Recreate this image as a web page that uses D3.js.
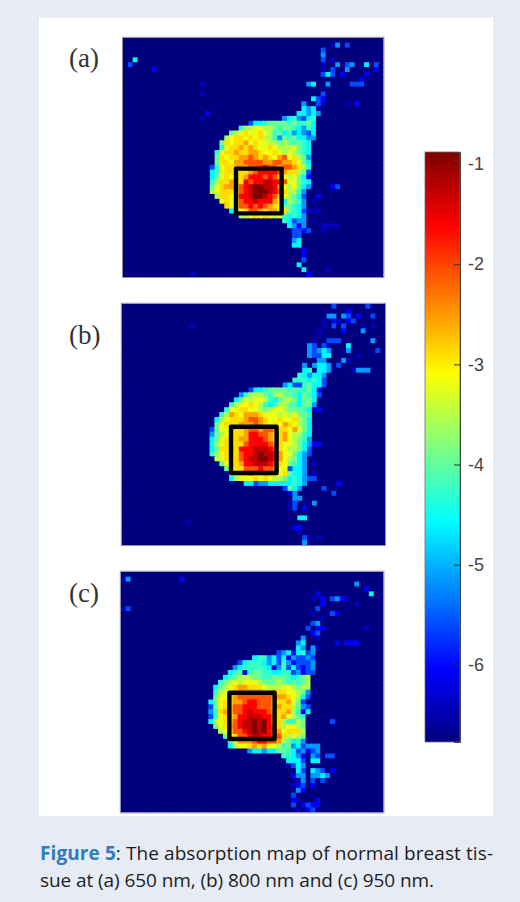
<!DOCTYPE html>
<html>
<head>
<meta charset="utf-8">
<script src="https://cdnjs.cloudflare.com/ajax/libs/d3/7.8.5/d3.min.js"></script>
<style>
  html, body { margin: 0; padding: 0; background: #e7ebf6; }
  svg { display: block; }
</style>
</head>
<body>
<svg id="fig" width="520" height="902"></svg>
<script>
// one char per cell level
const levelKeys = [".", "1", "2", "3", "4", "5", "6", "7", "8", "9", "a", "b", "c", "d", "e", "f"];
const levelValues = [-6.77, -6.45, -6.0, -5.6, -5.15, -4.6, -4.25, -3.95, -3.55, -3.2, -2.9, -2.55, -2.1, -1.65, -1.25, -0.9];
const barTicks = [-1, -2, -3, -4, -5, -6];
const panelNames = ["(a)", "(b)", "(c)"];

// each row: "startColumn:levels ..." anything not listed is background
const rowsA = [
  "", "43:14 46:3", "41:3", "41:4", "2:5 41:3 43:1", "1:3 41:1 44:4 46:34 50:5 52:3",
  "6:2 41:1 43:3 46:4 52:2", "41:3 42:5 43:3 45:2 50:2", "49:2", "16:1 38:45 42:4 47:333", "",
  "16:1 41:3", "39:53 41:2", "37:4 40:31 46:1 48:2", "37:545 40:1", "17:2 36:55454",
  "16:1 33:45643 38:56", "26:35567777676675",
  "24:6889988767765465", "22:789a99a98675645435", "21:89aa9a9a88647675544",
  "20:7a9aab9a99887876765", "20:69aababa99a98889765", "19:69aabaabba99a9898765",
  "19:7a9aabbcbaba9bc9a874", "19:7aa9bbccccbbccbba975", "18:369aabbbcccdccbccba86",
  "18:569aa9aabcddddcbaa873", "18:579a9aabdddcdca989752", "18:68aabaadcddeeddc99765",
  "18:79abbacdeffeedb989754 43:23", "18:89aaaacdefffedca8864", "19:8aa9addeffedca98753 40:2",
  "20:9a9acddedddb958764 39:1", "21:a9accdcdcba977654", "22:589accbabb9a7653 38:111",
  "24:889a9a989 33:65654", "33:65344 39:1", "34:5424 41:1111", "35:3323 41:1", "35:33",
  "35:45", "35:55", "37:2", "37:2", "37:3", "36:5", "37:5 42:1", "14:1 38:2"
];
const rowsB = [
  "43:3 50:3", "46:2", "42:44 45:4 46:3 48:2 51:3", "41:1 43:21 46:2 47:3", "14:1 41:1 43:3 45:3 49:1 51:1",
  "40:1 45:2 49:4", "40:1", "39:1 42:333 51:4", "38:43 41:31 46:5", "38:43454 46:4 52:3",
  "38:43355 48:1", "40:44 45:4 46:1", "37:4 39:4554 44:3", "37:56 40:554 47:1 48:444", "36:654554",
  "35:6665653", "33:4533675 40:53", "26:35567777676675 40:2",
  "24:46888768877657653", "23:57989986578875775", "22:6899a9865688765774",
  "21:699aa9987899877765 39:12", "20:68ba9bbba9998989776", "19:589aaabccba99a99a875",
  "19:79aaabbbcba9a9ba9875", "18:3799aaabccbccbaa9b975", "18:4789aaabddccbaab98865",
  "18:579aaabbdddcbaab98764", "18:589aaaacddddcba998754 39:22", "18:57aabadddeeedca988753",
  "18:689aaacddefeedb997543", "19:89aaacdeeffedb98754", "20:79aabddeeedca97654 39:1",
  "21:79aacccdccb993554", "22:68aabaabaa9a7554 39:1", "22:58999a9a9887565433",
  "25:5534455555654 44:2", "33:3 34:7 35:54 41:3", "34:24 43:3", "35:44", "34:13 39:4",
  "34:13 37:2", "", "36:55", "13:1", "35:22", "36:1", "37:31 40:1", "37:4"
];
const rowsC = [
  "", "0:14 12:2", "48:4", "50:2", "40:2 51:5", "39:1 41:2 43:3421",
  "41:2 48:1", "0:13 40:3", "39:1 43:32", "41:1", "39:34", "38:3 40:22 50:1",
  "39:23", "37:4 40:1", "36:45 44:2 46:222", "36:54 39:41", "32:34525634",
  "27:5664535243343", "24:3566654536423334", "23:45666665246353234", "22:567267766556634233",
  "21:567888776677765678", "20:6789899987778767678", "19:5789abbaaa9888998788",
  "19:6899abbbbbaabaa99874", "19:799abcccccccbbba9853", "18:579aabbcddcccaaab973",
  "18:379aaccdddcccabaa8743", "18:46abaccdedddcbaab8625", "18:369aabddeeeddbab9876",
  "18:589aacdeefefdba86687 43:3", "19:79abcdeefefdca89987", "20:89accdefefdcb9aaa8",
  "21:79accdeeddcca8987", "22:69bbbcddccb87564", "22:5899abab99867453444",
  "26:455455776534234", "33:66542 39:43 42:33", "34:5553 39:55", "34:1354",
  "36:53 39:543 43:2", "35:244 39:445 42:4", "36:14 39:3 41:3", "35:123 39:2",
  "36:42", "35:3", "35:21 40:2", "35:3 37:2322", "36:1 38:23"
];

const nCols = 54, nRows = 49;
const xTicks = [10, 20, 30, 40, 50];
const yTicks = [9, 18, 27, 36, 45];

// image box and marked square of every panel, in page pixels
const panelBoxes = [
  { x0: 123, x1: 383.4, y0: 37.8, y1: 277, labelY: 67, sq: [236, 281.6, 168.6, 213.4], rows: rowsA },
  { x0: 121.8, x1: 385, y0: 303.8, y1: 545, labelY: 344, sq: [231, 276.6, 426.8, 473], rows: rowsB },
  { x0: 120.8, x1: 383.4, y0: 571.8, y1: 812.4, labelY: 602, sq: [229.4, 274.6, 692.8, 739], rows: rowsC }
];

const svg = d3.select("#fig");

svg.append("rect").attr("x", 39).attr("y", 18).attr("width", 454).attr("height", 798).attr("fill", "#fff");

const defs = svg.append("defs");
defs.append("filter").attr("id", "soft")
  .attr("x", "-2%").attr("y", "-2%").attr("width", "104%").attr("height", "104%")
  .append("feGaussianBlur").attr("stdDeviation", 0.55);

// jet
const barMin = -6.77, barMax = -0.88;
const jetStops = ["#00007f", "#0000ff", "#00ffff", "#ffff00", "#ff0000", "#7f0000"];
const jetPos = [0, 0.125, 0.375, 0.625, 0.875, 1];
const color = d3.scaleLinear()
  .domain(jetPos.map(t => barMin + t * (barMax - barMin)))
  .range(jetStops)
  .clamp(true);

function parseRows(rows) {
  let cells = [];
  rows.forEach((row, r) => {
    let line = new Array(nCols).fill(".");
    row.split(" ").filter(s => s.includes(":")).forEach(part => {
      let [start, chars] = part.split(":");
      chars.split("").forEach((ch, i) => { line[+start + i] = ch; });
    });
    line.forEach((ch, c) => {
      cells.push({ r: r, c: c, v: levelValues[levelKeys.indexOf(ch)] });
    });
  });
  return cells;
}

panelBoxes.forEach((p, i) => {
  const x = d3.scaleLinear().domain([0, nCols]).range([p.x0, p.x1]);
  const y = d3.scaleLinear().domain([0, nRows]).range([p.y0, p.y1]);
  const g = svg.append("g").attr("class", "panel");

  // cells overlap the next one a little so no seams show through
  g.append("g").attr("filter", "url(#soft)")
    .selectAll("rect")
    .data(parseRows(p.rows))
    .enter()
    .append("rect")
    .attr("x", d => x(d.c))
    .attr("y", d => y(d.r))
    .attr("width", d => x(Math.min(d.c + 1.25, nCols)) - x(d.c))
    .attr("height", d => y(Math.min(d.r + 1.25, nRows)) - y(d.r))
    .attr("fill", d => color(d.v));

  // faint inner ticks and the frame
  g.append("g").attr("transform", `translate(0,${p.y1})`)
    .call(d3.axisTop(x).tickValues(xTicks).tickSize(2).tickFormat(""))
    .call(a => a.selectAll("line").attr("stroke", "#223"))
    .call(a => a.select(".domain").remove())
    .attr("opacity", 0.35);
  g.append("g").attr("transform", `translate(${p.x0},0)`)
    .call(d3.axisRight(y).tickValues(yTicks).tickSize(2).tickFormat(""))
    .call(a => a.selectAll("line").attr("stroke", "#223"))
    .call(a => a.select(".domain").remove())
    .attr("opacity", 0.35);
  g.append("rect")
    .attr("x", p.x0 - 0.5).attr("y", p.y0 - 0.5)
    .attr("width", p.x1 - p.x0 + 1).attr("height", p.y1 - p.y0 + 1)
    .attr("fill", "none").attr("stroke", "#8d8da6").attr("stroke-width", 1);

  g.append("rect")
    .attr("x", p.sq[0]).attr("y", p.sq[2])
    .attr("width", p.sq[1] - p.sq[0]).attr("height", p.sq[3] - p.sq[2])
    .attr("fill", "none").attr("stroke", "#000").attr("stroke-width", 4.4)
    .attr("stroke-linejoin", "round");

  svg.append("text")
    .attr("x", 69).attr("y", p.labelY)
    .attr("font-family", "'Liberation Serif', serif")
    .attr("font-size", 27)
    .attr("fill", "#333")
    .text(panelNames[i]);
});

// colour bar
const barX = 425, barW = 35, barTop = 152, barBottom = 742;
const barScale = d3.scaleLinear().domain([barMin, barMax]).range([barBottom, barTop]);

const grad = defs.append("linearGradient").attr("id", "jet")
  .attr("x1", 0).attr("y1", 1).attr("x2", 0).attr("y2", 0);
grad.selectAll("stop")
  .data(jetPos)
  .enter()
  .append("stop")
  .attr("offset", d => d)
  .attr("stop-color", (d, i) => jetStops[i]);

svg.append("rect")
  .attr("x", barX).attr("y", barTop)
  .attr("width", barW).attr("height", barBottom - barTop)
  .attr("fill", "url(#jet)")
  .attr("stroke", "#6a6a78").attr("stroke-width", 0.8);

const barAxis = svg.append("g")
  .attr("transform", `translate(${barX + barW},0)`)
  .call(d3.axisRight(barScale).tickValues(barTicks).tickSize(-6).tickPadding(8).tickFormat(d => String(d)));
barAxis.select(".domain").attr("stroke", "#444").attr("stroke-width", 1);
barAxis.selectAll("line").attr("stroke", "#333");
barAxis.selectAll("text")
  .attr("font-family", "'Liberation Sans', Arial, sans-serif")
  .attr("font-size", 18)
  .attr("fill", "#444");

// caption
const caption = svg.append("g")
  .attr("font-family", "'Open Sans', sans-serif")
  .attr("font-size", 19)
  .attr("fill", "#1c1c1c");
const line1 = caption.append("text").attr("x", 40).attr("y", 860).attr("textLength", 453);
line1.append("tspan").attr("font-weight", 700).attr("fill", "#2f7db9").text("Figure 5");
line1.append("tspan").text(": The absorption map of normal breast tis-");
caption.append("text").attr("x", 40).attr("y", 887).attr("textLength", 394)
  .text("sue at (a) 650 nm, (b) 800 nm and (c) 950 nm.");
</script>
</body>
</html>
